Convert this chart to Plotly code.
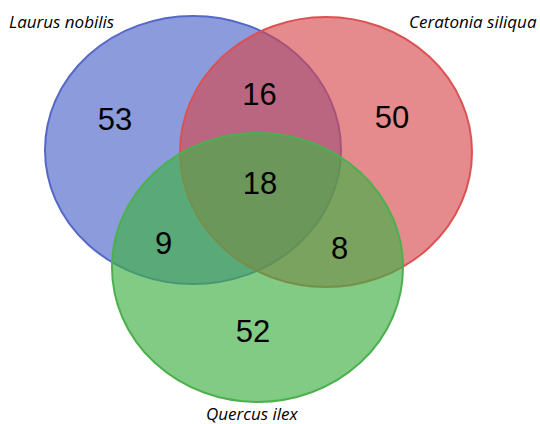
import plotly.graph_objects as go

# ---- data ----
set_names = ["Laurus nobilis", "Ceratonia siliqua", "Quercus ilex"]
region_names = ["L only", "C only", "Q only", "L&C", "L&Q", "C&Q", "L&C&Q"]
region_counts = [53, 50, 52, 16, 9, 8, 18]

# ---- layout geometry (pixel space) ----
ellipses = [  # cx, cy, rx, ry
    (193, 150, 148, 134),
    (326, 152, 146, 135),
    (257.5, 267.5, 145.5, 134.5),
]
fills = ["rgba(84,108,204,0.68)", "rgba(214,72,76,0.64)", "rgba(66,176,70,0.66)"]
edges = ["#5568C8", "#DB5252", "#4DB04F"]
region_pos = [(115, 122), (392, 120), (253, 334), (259.5, 97), (163.5, 246), (339.5, 251), (260, 186)]
label_pos = [(7, 21, "left"), (539, 21, "right"), (252, 413, "center")]

fig = go.Figure()
for (cx, cy, rx, ry), f, e in zip(ellipses, fills, edges):
    fig.add_shape(type="circle", xref="x", yref="y",
                  x0=cx - rx, x1=cx + rx, y0=cy - ry, y1=cy + ry,
                  fillcolor=f, line=dict(color=e, width=2), layer="below")

fig.add_trace(go.Scatter(
    x=[p[0] for p in region_pos], y=[p[1] for p in region_pos],
    mode="text", text=[str(c) for c in region_counts],
    textfont=dict(family="Liberation Sans, Arial", size=31, color="black"),
    hoverinfo="skip", showlegend=False))

for name, (x, y, anc) in zip(set_names, label_pos):
    fig.add_annotation(x=x, y=y, xref="x", yref="y", text=f"<i>{name}</i>",
                       showarrow=False, xanchor=anc, yanchor="middle",
                       font=dict(family="Open Sans", size=17, color="black"))

fig.update_xaxes(range=[0, 540], visible=False)
fig.update_yaxes(range=[424, 0], visible=False)
fig.update_layout(width=540, height=424, margin=dict(l=0, r=0, t=0, b=0),
                  plot_bgcolor="rgba(0,0,0,0)", paper_bgcolor="white")
fig.write_html("out.html", config={"displayModeBar": False},
               post_script="document.body.style.margin='0';document.body.style.padding='0';")
